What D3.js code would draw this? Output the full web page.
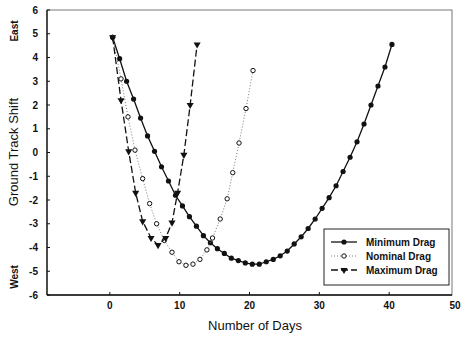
<!DOCTYPE html>
<html>
<head>
<meta charset="utf-8">
<script src="https://cdn.jsdelivr.net/npm/d3@7"></script>
<style>
  body { margin: 0; background: #fff; }
  svg text { font-family: "Liberation Sans", Arial, sans-serif; fill: #111; }
</style>
</head>
<body>
<div id="chart"></div>
<script>

// values (day, ground track shift)
var minDays = [0.4, 1.4, 2.4, 3.4, 4.4, 5.4, 6.4, 7.4, 8.4, 9.4, 10.4, 11.4, 12.4, 13.4,
               14.4, 15.4, 16.4, 17.4, 18.4, 19.4, 20.4, 21.4, 22.4, 23.4, 24.4, 25.4, 26.4,
               27.4, 28.4, 29.4, 30.4, 31.4, 32.4, 33.4, 34.4, 35.4, 36.4, 37.4, 38.4, 39.4, 40.4];
var minShift = [4.85, 3.95, 3.0, 2.25, 1.45, 0.7, 0.05, -0.6, -1.2, -1.8, -2.25, -2.7, -3.1, -3.5,
                -3.8, -4.05, -4.25, -4.45, -4.55, -4.65, -4.7, -4.7, -4.6, -4.5, -4.35, -4.15, -3.85,
                -3.55, -3.2, -2.8, -2.35, -1.9, -1.4, -0.8, -0.2, 0.45, 1.2, 2.0, 2.8, 3.6, 4.55];

var nomDays = [0.4, 1.6, 2.6, 3.6, 4.7, 5.7, 6.7, 7.8, 8.9, 9.9, 10.9, 11.9, 12.9, 13.9,
               14.7, 15.8, 16.8, 17.6, 18.5, 19.5, 20.5];
var nomShift = [4.85, 3.1, 1.5, 0.1, -1.1, -2.15, -3.0, -3.7, -4.2, -4.6, -4.75, -4.7, -4.5, -4.1,
                -3.6, -2.8, -1.95, -0.85, 0.4, 1.85, 3.45];

var maxDays = [0.4, 1.6, 2.7, 3.7, 4.7, 5.9, 6.9, 8.0, 8.9, 9.7, 10.6, 11.5, 12.5];
var maxShift = [4.85, 2.2, 0.05, -1.7, -2.9, -3.6, -3.9, -3.6, -2.95, -1.7, -0.1, 2.0, 4.55];

var xTicks = [0, 10, 20, 30, 40, 50];
var yTicks = [-6, -5, -4, -3, -2, -1, 0, 1, 2, 3, 4, 5, 6];
var seriesNames = ["Minimum Drag", "Nominal Drag", "Maximum Drag"];

var width = 462, height = 339;
var margin = {left: 47, top: 10, right: 10, bottom: 44};

var svg = d3.select("#chart").append("svg").attr("width", width).attr("height", height);

var x = d3.scaleLinear().domain([-9, 49]).range([margin.left, width - margin.right]);
var y = d3.scaleLinear().domain([-6, 6]).range([height - margin.bottom, margin.top]);

function zipSeries(days, vals) { return days.map(function(d, i) { return [d, vals[i]]; }); }

var series = [
  {name: seriesNames[0], data: zipSeries(minDays, minShift), dash: null, width: 1.3, color: "#111", marker: "dot"},
  {name: seriesNames[1], data: zipSeries(nomDays, nomShift), dash: "1,2", width: 1, color: "#777", marker: "ring"},
  {name: seriesNames[2], data: zipSeries(maxDays, maxShift), dash: "7,3", width: 1.3, color: "#111", marker: "tri"}
];

// frame
svg.append("rect")
   .attr("x", x.range()[0]).attr("y", y.range()[1])
   .attr("width", x.range()[1] - x.range()[0]).attr("height", y.range()[0] - y.range()[1])
   .attr("fill", "none").attr("stroke", "#555").attr("stroke-width", 0.8);

svg.append("line")
   .attr("x1", x.range()[0]).attr("x2", x.range()[0])
   .attr("y1", y.range()[1]).attr("y2", y.range()[0])
   .attr("stroke", "#111").attr("stroke-width", 1.3);
svg.append("line")
   .attr("x1", x.range()[0]).attr("x2", x.range()[1])
   .attr("y1", y.range()[0]).attr("y2", y.range()[0])
   .attr("stroke", "#111").attr("stroke-width", 1.3);

// y ticks
var yAxis = svg.append("g");
yAxis.selectAll("line").data(yTicks).enter().append("line")
     .attr("x1", x.range()[0]).attr("x2", x.range()[0] + 3)
     .attr("y1", function(d) { return y(d); }).attr("y2", function(d) { return y(d); })
     .attr("stroke", "#111");
yAxis.selectAll("text").data(yTicks).enter().append("text")
     .attr("x", 38).attr("y", function(d) { return y(d) + 3.5; })
     .attr("text-anchor", "end")
     .style("font-size", "10px").style("font-weight", "bold")
     .text(function(d) { return d; });

// x ticks (50 falls just past the frame, as in the original)
var xAxis = svg.append("g");
xAxis.selectAll("line").data(xTicks.filter(function(d) { return x(d) <= x.range()[1]; })).enter().append("line")
     .attr("x1", function(d) { return x(d); }).attr("x2", function(d) { return x(d); })
     .attr("y1", y.range()[0]).attr("y2", y.range()[0] - 3)
     .attr("stroke", "#111");
xAxis.selectAll("text").data(xTicks).enter().append("text")
     .attr("x", function(d) { return Math.min(x(d), width - 7); }).attr("y", 309)
     .attr("text-anchor", "middle")
     .style("font-size", "10px").style("font-weight", "bold")
     .text(function(d) { return d; });

// axis titles
svg.append("text")
   .attr("x", 255).attr("y", 330)
   .attr("text-anchor", "middle").style("font-size", "13px")
   .text("Number of Days");

svg.append("text")
   .attr("transform", "translate(18,152) rotate(-90)")
   .attr("text-anchor", "middle").style("font-size", "13px")
   .text("Ground Track Shift");
svg.append("text")
   .attr("transform", "translate(18,31) rotate(-90)")
   .attr("text-anchor", "middle").style("font-size", "10px").style("font-weight", "bold")
   .text("East");
svg.append("text")
   .attr("transform", "translate(18,277) rotate(-90)")
   .attr("text-anchor", "middle").style("font-size", "10px").style("font-weight", "bold")
   .text("West");

var line = d3.line().x(function(d) { return x(d[0]); }).y(function(d) { return y(d[1]); });
var triangle = d3.symbol().type(d3.symbolTriangle).size(22);

function drawMarker(g, type, cx, cy) {
  if (type === "dot") {
    g.append("circle").attr("cx", cx).attr("cy", cy).attr("r", 2.6).attr("fill", "#111");
  } else if (type === "ring") {
    g.append("circle").attr("cx", cx).attr("cy", cy).attr("r", 2.2)
     .attr("fill", "#fff").attr("stroke", "#111").attr("stroke-width", 1);
  } else {
    g.append("path").attr("d", triangle)
     .attr("transform", "translate(" + cx + "," + cy + ") rotate(180)")
     .attr("fill", "#111");
  }
}

series.forEach(function(s) {
  var g = svg.append("g");
  g.append("path").datum(s.data)
   .attr("d", line)
   .attr("fill", "none")
   .attr("stroke", s.color)
   .attr("stroke-width", s.width)
   .attr("stroke-dasharray", s.dash);
  s.data.forEach(function(d) { drawMarker(g, s.marker, x(d[0]), y(d[1])); });
});

// legend
var legend = svg.append("g");
legend.append("rect")
      .attr("x", 324).attr("y", 229).attr("width", 125).attr("height", 56)
      .attr("fill", "#fff").attr("stroke", "#222").attr("stroke-width", 1);

series.forEach(function(s, i) {
  var ly = 242 + i * 14;
  legend.append("line")
        .attr("x1", 331).attr("x2", 357).attr("y1", ly).attr("y2", ly)
        .attr("stroke", s.color).attr("stroke-width", s.width)
        .attr("stroke-dasharray", s.dash);
  drawMarker(legend, s.marker, 344, ly);
  legend.append("text")
        .attr("x", 366).attr("y", ly + 3.5)
        .style("font-size", "10px").style("font-weight", "bold")
        .text(s.name);
});

</script>
</body>
</html>
